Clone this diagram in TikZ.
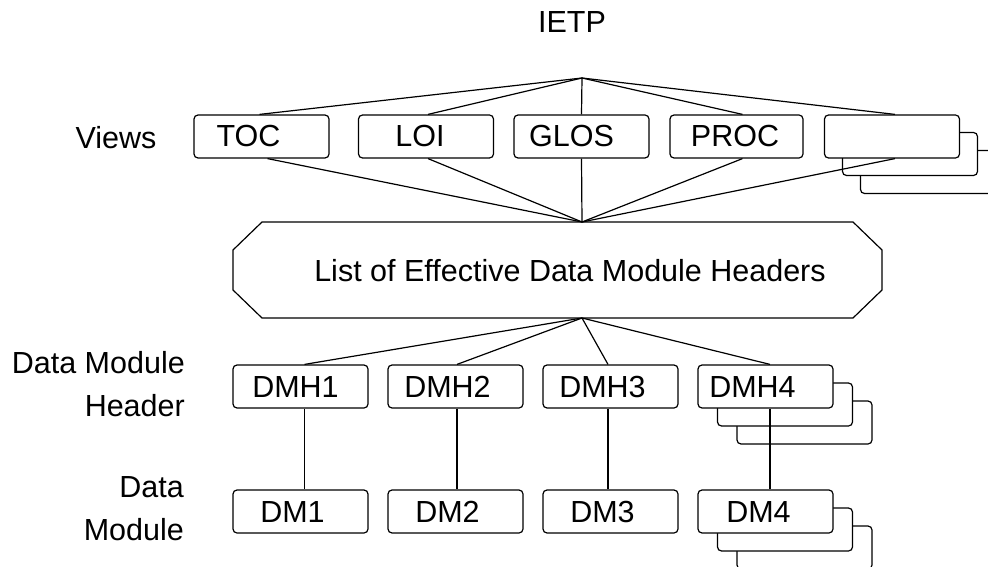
\documentclass[tikz,border=0pt]{standalone}
\usepackage{fontspec}
\setmainfont{Liberation Sans}
\usetikzlibrary{calc}
\begin{document}
\begin{tikzpicture}[x=1pt,y=-1pt,
  every node/.style={font=\fontsize{30.5}{43}\selectfont},
  box/.style={draw,line width=1.2pt,rounded corners=4pt,fill=white,minimum width=135pt,minimum height=43pt,inner sep=0pt},
  lbl/.style={inner sep=0pt},
  txt/.style={inner sep=0pt,text height=22pt,text depth=0pt},
  conn/.style={line width=1.2pt}]
\useasboundingbox (0,0) rectangle (988,567);
% title and row labels
\node[txt] (ietp) at (572,21.5) {IETP};
\node[txt] (views) at (116,138) {Views};
\node[lbl,align=right,anchor=east] (dmhlbl) at (185,384) {Data Module\\Header};
\node[lbl,align=right,anchor=east] (dmlbl) at (184,509) {Data\\Module};
% apex points
\coordinate (top) at (582,78);
\coordinate (mid) at (582,222);
\coordinate (low) at (582,318);
% view boxes (stacked blank box)
\node[box] (v5c) at (928,172) {};
\node[box] (v5b) at (910,154) {};
\node[box] (toc) at (261.5,136.5) {};
\node[box] (loi) at (426,136.5) {};
\node[box] (glos) at (581.5,136.5) {};
\node[box,minimum width=133pt] (proc) at (736.5,136.5) {};
\node[box] (v5) at (892,136.5) {};
\node[txt] at ([xshift=-13pt,yshift=1pt]toc.center) {TOC};
\node[txt] at ([xshift=-6pt,yshift=1pt]loi.center) {LOI};
\node[txt] at ([xshift=-10pt,yshift=1pt]glos.center) {GLOS};
\node[txt] at ([xshift=-1.5pt,yshift=1pt]proc.center) {PROC};
% list of effective data module headers
\draw[line width=1.2pt] (262,222) -- (853,222) -- (882,250) -- (882,290) -- (853,318)
  -- (262,318) -- (233,290) -- (233,250) -- cycle;
\node[txt] (ledmh) at (570,270) {List of Effective Data Module Headers};
% data module headers
\node[box] (dmh4c) at (804.5,422.5) {};
\node[box] (dmh4b) at (785,404.5) {};
\node[box] (dmh1) at (300.5,386.5) {};
\node[box] (dmh2) at (455.5,386.5) {};
\node[box] (dmh3) at (610.5,386.5) {};
\node[box] (dmh4) at (765.5,386.5) {};
\node[txt] at ([xshift=-5pt]dmh1.center) {DMH1};
\node[txt] at ([xshift=-8pt]dmh2.center) {DMH2};
\node[txt] at ([xshift=-8pt]dmh3.center) {DMH3};
\node[txt] at ([xshift=-13pt]dmh4.center) {DMH4};
% data modules
\node[box] (dm4c) at (804.5,547.5) {};
\node[box] (dm4b) at (785,529.5) {};
\node[box] (dm1) at (300.5,511.5) {};
\node[box] (dm2) at (455.5,511.5) {};
\node[box] (dm3) at (610.5,511.5) {};
\node[box] (dm4) at (765.5,511.5) {};
\node[txt] at ([xshift=-8pt]dm1.center) {DM1};
\node[txt] at ([xshift=-8pt]dm2.center) {DM2};
\node[txt] at ([xshift=-8pt]dm3.center) {DM3};
\node[txt] at ([xshift=-7pt]dm4.center) {DM4};
% connectors: IETP to views
\draw[conn] (top) -- ([xshift=-2pt]toc.north);
\draw[conn] (top) -- ([xshift=2pt]loi.north);
\draw[conn] (top) -- (glos.north);
\draw[conn] (top) -- ([xshift=6pt]proc.north);
\draw[conn] (top) -- ([xshift=3pt]v5.north);
% views to list
\draw[conn] ([xshift=6pt]toc.south) -- (mid);
\draw[conn] ([xshift=2pt]loi.south) -- (mid);
\draw[conn] (glos.south) -- (mid);
\draw[conn] ([xshift=6pt]proc.south) -- (mid);
\draw[conn] ([xshift=3pt]v5.south) -- (mid);
% list to headers
\draw[conn] (low) -- ([xshift=4pt]dmh1.north);
\draw[conn] (low) -- ([xshift=1.5pt]dmh2.north);
\draw[conn] (low) -- ([xshift=-2.5pt]dmh3.north);
\draw[conn] (low) -- ([xshift=4.5pt]dmh4.north);
% headers to modules
\draw[conn] ([xshift=4pt]dmh1.south) -- ([xshift=4pt]dm1.north);
\draw[conn] ([xshift=1.5pt]dmh2.south) -- ([xshift=1.5pt]dm2.north);
\draw[conn] ([xshift=-2.5pt]dmh3.south) -- ([xshift=-2.5pt]dm3.north);
\draw[conn] ([xshift=4.5pt]dmh4.south) -- ([xshift=4.5pt]dm4.north);
\end{tikzpicture}
\end{document}
